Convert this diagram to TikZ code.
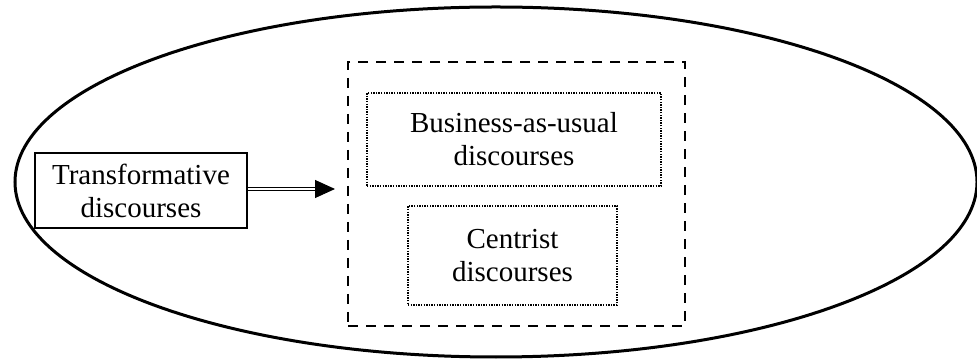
\documentclass[tikz,border=0pt]{standalone}
\usepackage{fontspec}
\setmainfont{Liberation Serif}
\usepackage{tikz}
\usetikzlibrary{arrows.meta}
\newcommand{\disc}{\fontsize{14.5}{16.5}\selectfont}
\tikzset{>/.tip={Triangle[length=10pt,width=9pt]},
  discbox/.style={draw, line width=0.9pt, align=center, inner sep=0pt, font=\disc},
  groupbox/.style={draw, line width=1pt, dash pattern=on 5pt off 4pt, inner sep=0pt},
  subbox/.style={draw, line width=0.7pt, dash pattern=on 0.7pt off 0.6pt, align=center, inner sep=0pt, font=\disc}}

\begin{document}
\begin{tikzpicture}[x=0.5pt,y=-0.5pt]
\useasboundingbox (0,0) rectangle (977,362);
\draw[line width=1.5pt] (496,182) ellipse [x radius=481, y radius=175];

\node[discbox, minimum width=106pt, minimum height=37.5pt] (trans) at (141,190.5) {Transformative\\ discourses};
\node[groupbox, minimum width=168.5pt, minimum height=132pt] (group) at (516.5,194) {};
\node[subbox, minimum width=147pt, minimum height=46.5pt] (bau) at (514,139.5) {Business-as-usual\\ discourses};
\node[subbox, minimum width=104.5pt, minimum height=49.5pt] (centrist) at (512.5,255.5) {Centrist\\ discourses};

\draw[->, double, line width=0.5pt, double distance=1pt, shorten >=6pt] (trans.east |- 0,189) -- (group.west |- 0,189);
\end{tikzpicture}
\end{document}
